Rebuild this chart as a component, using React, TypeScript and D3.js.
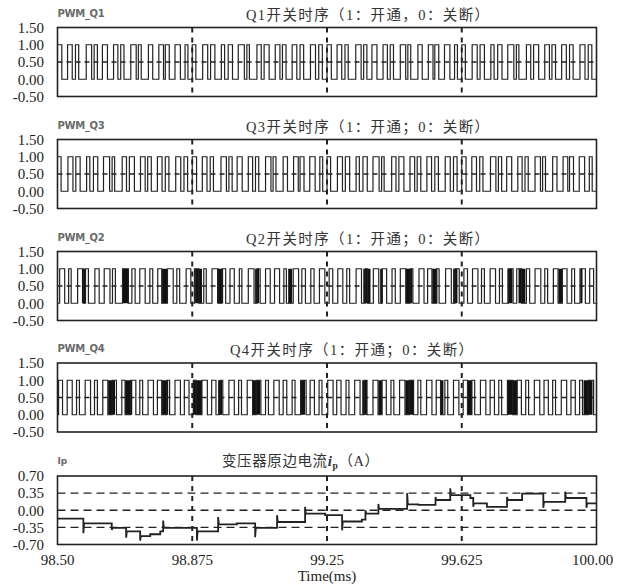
import React from 'react'
import * as d3 from 'd3'

const width = 624
const height = 585
const plotLeft = 57.5
const plotRight = 596.5
const pwmTop = [27.5, 139.5, 251.5, 363]
const pwmHeight = 69
const ipTop = 476
const ipHeight = 68.5

const timeTicks = [98.5, 98.875, 99.25, 99.625, 100]
const timeTickLabels = ['98.50', '98.875', '99.25', '99.625', '100.00']
const timeGrid = [98.875, 99.25, 99.625]
const pwmTicks = [1.5, 1, 0.5, 0, -0.5]
const pwmTickLabels = ['1.50', '1.00', '0.50', '0.00', '-0.50']
const pwmGrid = [0.5]
const ipTicks = [0.7, 0.35, 0, -0.35, -0.7]
const ipTickLabels = ['0.70', '0.35', '0.00', '-0.35', '-0.70']
const ipGrid = [0.35, 0, -0.35]

const pwmNames = ['PWM_Q1', 'PWM_Q3', 'PWM_Q2', 'PWM_Q4']
const pwmTitles = [
  'Q1开关时序（1：开通，0：关断）',
  'Q3开关时序（1：开通；0：关断）',
  'Q2开关时序（1：开通；0：关断）',
  'Q4开关时序（1：开通；0：关断）',
]

// on-intervals as flat pairs: rise, fall, rise, fall ... (ms)
const q1On = [
  98.500, 98.512, 98.528, 98.541, 98.550, 98.559, 98.580, 98.595, 98.602, 98.611,
  98.625, 98.639, 98.656, 98.668, 98.676, 98.685, 98.704, 98.719, 98.725, 98.733,
  98.753, 98.765, 98.782, 98.795, 98.800, 98.811, 98.827, 98.842, 98.855, 98.863,
  98.875, 98.885, 98.904, 98.918, 98.926, 98.938, 98.956, 98.965, 98.975, 98.987,
  99.003, 99.020, 99.027, 99.034, 99.055, 99.067, 99.075, 99.089, 99.106, 99.119,
  99.126, 99.136, 99.153, 99.166, 99.175, 99.185, 99.204, 99.218, 99.227, 99.237,
  99.250, 99.262, 99.278, 99.291, 99.300, 99.309, 99.330, 99.345, 99.352, 99.361,
  99.375, 99.389, 99.406, 99.418, 99.426, 99.435, 99.454, 99.469, 99.475, 99.483,
  99.503, 99.515, 99.532, 99.545, 99.550, 99.561, 99.577, 99.592, 99.605, 99.613,
  99.625, 99.635, 99.654, 99.668, 99.676, 99.688, 99.706, 99.715, 99.725, 99.737,
  99.753, 99.770, 99.777, 99.784, 99.805, 99.817, 99.825, 99.839, 99.856, 99.869,
  99.876, 99.886, 99.903, 99.916, 99.925, 99.935, 99.954, 99.968, 99.977, 99.987,
]
const q3On = [
  98.500, 98.510, 98.529, 98.543, 98.551, 98.563, 98.581, 98.590, 98.600, 98.612,
  98.628, 98.645, 98.652, 98.659, 98.680, 98.692, 98.700, 98.714, 98.731, 98.744,
  98.751, 98.761, 98.778, 98.791, 98.800, 98.810, 98.829, 98.843, 98.852, 98.862,
  98.875, 98.887, 98.903, 98.916, 98.925, 98.934, 98.955, 98.970, 98.977, 98.986,
  99.000, 99.014, 99.031, 99.043, 99.051, 99.060, 99.079, 99.094, 99.100, 99.108,
  99.128, 99.140, 99.157, 99.170, 99.175, 99.186, 99.202, 99.217, 99.230, 99.238,
  99.250, 99.260, 99.279, 99.293, 99.301, 99.313, 99.331, 99.340, 99.350, 99.362,
  99.378, 99.395, 99.402, 99.409, 99.430, 99.442, 99.450, 99.464, 99.481, 99.494,
  99.501, 99.511, 99.528, 99.541, 99.550, 99.560, 99.579, 99.593, 99.602, 99.612,
  99.625, 99.637, 99.653, 99.666, 99.675, 99.684, 99.705, 99.720, 99.727, 99.736,
  99.750, 99.764, 99.781, 99.793, 99.801, 99.810, 99.829, 99.844, 99.850, 99.858,
  99.878, 99.890, 99.907, 99.920, 99.925, 99.936, 99.952, 99.967, 99.980, 99.988,
]
const q2On = [
  98.506, 98.520, 98.531, 98.538, 98.556, 98.572, 98.578, 98.586, 98.604, 98.616,
  98.630, 98.646, 98.653, 98.661, 98.681, 98.697, 98.707, 98.716, 98.729, 98.744,
  98.757, 98.765, 98.779, 98.790, 98.806, 98.822, 98.832, 98.840, 98.858, 98.871,
  98.881, 98.893, 98.907, 98.914, 98.930, 98.947, 98.958, 98.968, 98.980, 98.992,
  99.006, 99.013, 99.031, 99.047, 99.055, 99.064, 99.079, 99.092, 99.104, 99.118,
  99.130, 99.137, 99.156, 99.171, 99.180, 99.190, 99.205, 99.214, 99.229, 99.244,
  99.256, 99.266, 99.280, 99.294, 99.305, 99.313, 99.331, 99.346, 99.356, 99.363,
  99.379, 99.394, 99.404, 99.416, 99.431, 99.440, 99.454, 99.470, 99.481, 99.489,
  99.506, 99.520, 99.530, 99.542, 99.555, 99.562, 99.580, 99.596, 99.606, 99.618,
  99.631, 99.641, 99.655, 99.670, 99.680, 99.688, 99.704, 99.719, 99.730, 99.738,
  99.755, 99.768, 99.778, 99.792, 99.805, 99.814, 99.829, 99.845, 99.856, 99.864,
  99.880, 99.893, 99.905, 99.918, 99.931, 99.939, 99.954, 99.969, 99.981, 99.992,
]
const q4On = [
  98.503, 98.514, 98.527, 98.541, 98.553, 98.561, 98.577, 98.592, 98.603, 98.611,
  98.626, 98.640, 98.652, 98.664, 98.679, 98.688, 98.703, 98.718, 98.729, 98.737,
  98.752, 98.767, 98.778, 98.790, 98.804, 98.812, 98.827, 98.842, 98.853, 98.866,
  98.878, 98.886, 98.902, 98.917, 98.929, 98.941, 98.952, 98.960, 98.977, 98.992,
  99.004, 99.012, 99.028, 99.043, 99.053, 99.066, 99.079, 99.087, 99.102, 99.117,
  99.128, 99.138, 99.153, 99.161, 99.177, 99.192, 99.203, 99.215, 99.228, 99.236,
  99.252, 99.267, 99.277, 99.289, 99.303, 99.311, 99.327, 99.342, 99.353, 99.361,
  99.378, 99.392, 99.403, 99.415, 99.428, 99.436, 99.452, 99.467, 99.479, 99.491,
  99.503, 99.511, 99.527, 99.542, 99.554, 99.566, 99.578, 99.586, 99.602, 99.617,
  99.629, 99.641, 99.653, 99.661, 99.677, 99.692, 99.704, 99.716, 99.728, 99.736,
  99.752, 99.767, 99.779, 99.791, 99.803, 99.811, 99.827, 99.842, 99.854, 99.866,
  99.878, 99.886, 99.902, 99.917, 99.929, 99.941, 99.953, 99.961, 99.977, 99.992,
]

// spans of very fast switching (drawn solid), start, end pairs (ms)
const q1Dense: number[] = []
const q3Dense: number[] = []
const q2Dense = [
  98.568, 98.577, 98.682, 98.699, 98.791, 98.805, 98.883, 98.902, 98.944, 98.961,
  99.050, 99.061, 99.142, 99.153, 99.351, 99.371, 99.398, 99.404, 99.468, 99.487,
  99.543, 99.557, 99.601, 99.613, 99.752, 99.766, 99.783, 99.802, 99.894, 99.905,
  99.955, 99.961,
]
const q4Dense = [
  98.641, 98.660, 98.688, 98.708, 98.791, 98.808, 98.877, 98.902, 98.947, 98.958,
  99.042, 99.064, 99.175, 99.189, 99.348, 99.362, 99.393, 99.404, 99.468, 99.490,
  99.565, 99.574, 99.641, 99.654, 99.752, 99.780, 99.964, 99.989,
]

const pwmOn = [q1On, q3On, q2On, q4On]
const pwmDense = [q1Dense, q3Dense, q2Dense, q4Dense]

// primary current ip (A): step times, level after step, transient peak
const ipStart = -0.17
const ipTimes = [
  98.572, 98.651, 98.691, 98.730, 98.758, 98.786, 98.794, 98.888, 98.947, 98.999,
  99.050, 99.111, 99.189, 99.245, 99.292, 99.347, 99.357, 99.393, 99.473, 99.504,
  99.552, 99.593, 99.649, 99.657, 99.695, 99.751, 99.793, 99.852, 99.913, 99.972,
]
const ipLevels = [
  -0.27, -0.36, -0.43, -0.53, -0.49, -0.43, -0.36, -0.43, -0.29, -0.27,
  -0.36, -0.24, -0.07, -0.10, -0.23, -0.19, -0.07, 0.03, 0.12, 0.11,
  0.21, 0.31, 0.25, 0.14, 0.07, 0.21, 0.34, 0.17, 0.25, 0.14,
]
const ipPeaks = [
  -0.47, -0.40, -0.56, -0.62, -0.49, -0.43, -0.21, -0.62, -0.14, -0.27,
  -0.55, -0.10, 0.07, -0.10, -0.41, -0.19, 0.0, 0.13, 0.35, 0.11,
  0.27, 0.45, 0.25, 0.07, 0.07, 0.27, 0.34, 0.05, 0.38, 0.05,
]

const serif = '"Liberation Serif", "Times New Roman", "Noto Sans CJK SC", serif'
const ink = '#222'

const x = d3.scaleLinear().domain([98.5, 100]).range([plotLeft, plotRight])

const pwmPoints = (on: number[]) => {
  const pts: [number, number][] = []
  const first = on.length > 0 && on[0] <= 98.5 ? 1 : 0
  pts.push([98.5, first])
  for (let i = 0; i < on.length; i += 2) {
    const a = on[i]
    const b = on[i + 1]
    if (a > 98.5) {
      pts.push([a, 0])
      pts.push([a, 1])
    }
    pts.push([b, 1])
    pts.push([b, 0])
  }
  pts.push([100, 0])
  return pts
}

const ipPoints = () => {
  const pts: [number, number][] = [[98.5, ipStart]]
  let prev = ipStart
  ipTimes.forEach((t, i) => {
    pts.push([t, prev])
    pts.push([t, ipPeaks[i]])
    pts.push([t + 0.002, ipLevels[i]])
    prev = ipLevels[i]
  })
  pts.push([100, prev])
  return pts
}

const PwmPanel = ({index}: {index: number}) => {
  const top = pwmTop[index]
  const y = d3.scaleLinear().domain([-0.5, 1.5]).range([top + pwmHeight, top])
  const line = d3
    .line<[number, number]>()
    .x(d => x(d[0]))
    .y(d => y(d[1]))
  const dense = pwmDense[index]
  const spans: [number, number][] = []
  for (let i = 0; i < dense.length; i += 2) spans.push([dense[i], dense[i + 1]])
  const clipId = `clip-pwm-${index}`
  return (
    <g>
      <clipPath id={clipId}>
        <rect x={plotLeft} y={top} width={plotRight - plotLeft} height={pwmHeight} />
      </clipPath>
      <text x={plotLeft} y={top - 11} fontFamily='"DejaVu Sans", sans-serif' fontWeight="bold"
        fontSize={10} letterSpacing={-0.3} fill="#6a6a6a">{pwmNames[index]}</text>
      <text x={index === 3 ? 230 : 246} y={top - 8} fontFamily={serif} fontSize={14.5}
        letterSpacing={1.4} fill="#333">
        {pwmTitles[index]}
      </text>
      {pwmTicks.map((t, i) => (
        <text key={t} x={44} y={y(t)} dy="0.35em" textAnchor="end" fontFamily={serif}
          fontSize={15} fill={ink}>{pwmTickLabels[i]}</text>
      ))}
      <g clipPath={`url(#${clipId})`}>
        {pwmGrid.map(g => (
          <line key={g} x1={plotLeft} x2={plotRight} y1={y(g)} y2={y(g)}
            stroke={ink} strokeWidth={1.3} strokeDasharray="5,4" />
        ))}
        {timeGrid.map(t => (
          <line key={t} x1={x(t)} x2={x(t)} y1={top} y2={top + pwmHeight}
            stroke={ink} strokeWidth={2} strokeDasharray="5,5" />
        ))}
        {spans.map(s => (
          <rect key={s[0]} x={x(s[0])} width={x(s[1]) - x(s[0])} y={y(1)} height={y(0) - y(1)}
            fill="#111" />
        ))}
        <path d={line(pwmPoints(pwmOn[index])) || ''} fill="none" stroke={ink} strokeWidth={1.2} />
      </g>
      <rect x={plotLeft} y={top} width={plotRight - plotLeft} height={pwmHeight}
        fill="none" stroke={ink} strokeWidth={1.6} />
    </g>
  )
}

const IpPanel = () => {
  const top = ipTop
  const y = d3.scaleLinear().domain([-0.7, 0.7]).range([top + ipHeight, top])
  const line = d3
    .line<[number, number]>()
    .x(d => x(d[0]))
    .y(d => y(d[1]))
  return (
    <g>
      <clipPath id="clip-ip">
        <rect x={plotLeft} y={top} width={plotRight - plotLeft} height={ipHeight} />
      </clipPath>
      <text x={plotLeft} y={top - 12} fontFamily='"DejaVu Sans", sans-serif' fontWeight="bold"
        fontSize={9} fill="#6a6a6a">Ip</text>
      <text x={222} y={top - 10} fontFamily={serif} fontSize={14.5} letterSpacing={0.6} fill="#333">
        变压器原边电流
        <tspan fontStyle="italic" fontWeight="bold" fontSize={15}>i</tspan>
        <tspan fontWeight="bold" fontSize={9.5} dy={3}>p</tspan>
        <tspan dy={-3}>（A）</tspan>
      </text>
      {ipTicks.map((t, i) => (
        <text key={t} x={44} y={y(t)} dy="0.35em" textAnchor="end" fontFamily={serif}
          fontSize={15} fill={ink}>{ipTickLabels[i]}</text>
      ))}
      <g clipPath="url(#clip-ip)">
        {ipGrid.map(g => (
          <line key={g} x1={plotLeft} x2={plotRight} y1={y(g)} y2={y(g)}
            stroke={ink} strokeWidth={1.3} strokeDasharray="8,5" />
        ))}
        {timeGrid.map(t => (
          <line key={t} x1={x(t)} x2={x(t)} y1={top} y2={top + ipHeight}
            stroke={ink} strokeWidth={2} strokeDasharray="5,5" />
        ))}
        <path d={line(ipPoints()) || ''} fill="none" stroke={ink} strokeWidth={1.8} />
      </g>
      <rect x={plotLeft} y={top} width={plotRight - plotLeft} height={ipHeight}
        fill="none" stroke={ink} strokeWidth={1.6} />
      {timeTicks.map((t, i) => (
        <text key={t} x={x(t) - (i === timeTicks.length - 1 ? 4 : 0)} y={565} textAnchor="middle"
          fontFamily={serif} fontSize={15} fill={ink}>{timeTickLabels[i]}</text>
      ))}
      <text x={327} y={581} textAnchor="middle" fontFamily={serif} fontSize={15} fill={ink}>
        Time(ms)
      </text>
    </g>
  )
}

export default function App() {
  return (
    <div style={{position: 'absolute', left: 0, top: 0}}>
      <svg width={width} height={height} style={{display: 'block', background: '#fff'}}>
        {pwmTop.map((_, i) => (
          <PwmPanel key={i} index={i} />
        ))}
        <IpPanel />
      </svg>
    </div>
  )
}
